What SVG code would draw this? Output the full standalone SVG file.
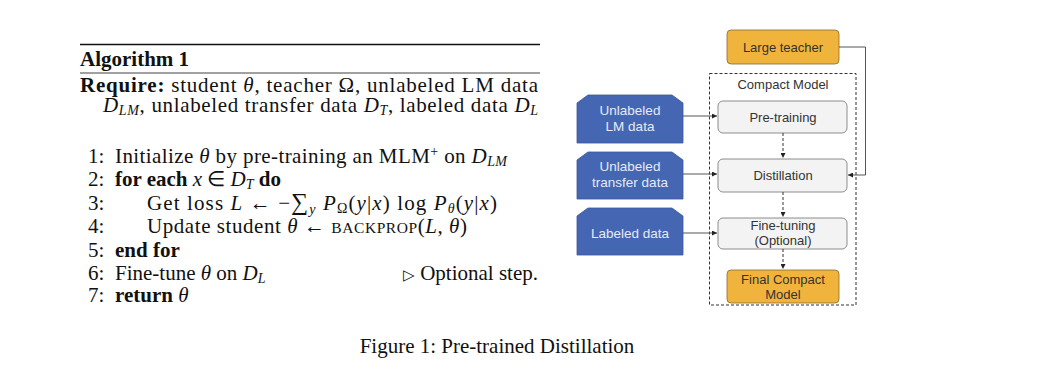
<svg xmlns="http://www.w3.org/2000/svg" width="1054" height="371" viewBox="0 0 1054 371">
<defs>
<style>
.t{font-family:"Liberation Serif","Times New Roman",serif;font-size:21px;fill:#111}
.b{font-weight:bold}
.i{font-style:italic}
.s{font-size:14px}
.n{font-family:"Liberation Sans",Arial,sans-serif;font-size:13px;fill:#333;text-anchor:middle}
.w{fill:#e6ebf7;font-size:13.5px}
.blue{fill:#4566b2;stroke:#3a5699;stroke-width:0.8}
.org{fill:#f0b43c;stroke:#8a6a2a;stroke-width:0.8}
.gry{fill:#f3f3f3;stroke:#8c8c8c;stroke-width:1}
.c{fill:none;stroke:#555;stroke-width:1}
.d{fill:none;stroke:#333;stroke-width:1;stroke-dasharray:3 2}
</style>
<marker id="ah" viewBox="0 0 6 6" refX="6" refY="3" markerWidth="5" markerHeight="5" orient="auto" markerUnits="userSpaceOnUse">
<path d="M0,0 L6,3 L0,6 z" fill="#222"/>
</marker>
</defs>
<rect width="1054" height="371" fill="#fff"/>

<g id="algorithm">
<line x1="80" y1="44.5" x2="540" y2="44.5" stroke="#111" stroke-width="1.6"/>
<text class="t b" x="80" y="65.5">Algorithm 1</text>
<line x1="80" y1="73" x2="540" y2="73" stroke="#111" stroke-width="0.8"/>
<text class="t" x="80" y="92" textLength="458" lengthAdjust="spacing"><tspan class="b">Require:</tspan> student <tspan class="i">θ</tspan>, teacher Ω, unlabeled LM data</text>
<text class="t" x="103" y="112" textLength="435" lengthAdjust="spacing"><tspan class="i">D</tspan><tspan class="i s" dy="3">LM</tspan><tspan dy="-3">, unlabeled transfer data </tspan><tspan class="i">D</tspan><tspan class="i s" dy="3">T</tspan><tspan dy="-3">, labeled data </tspan><tspan class="i">D</tspan><tspan class="i s" dy="3">L</tspan></text>

<text class="t" x="88" y="163">1:</text>
<text class="t" x="115" y="163" textLength="392" lengthAdjust="spacing">Initialize <tspan class="i">θ</tspan> by pre-training an MLM<tspan class="s" dy="-7">+</tspan><tspan dy="7"> on </tspan><tspan class="i">D</tspan><tspan class="i s" dy="3">LM</tspan></text>

<text class="t" x="88" y="186">2:</text>
<text class="t" x="115" y="186"><tspan class="b">for each</tspan> <tspan class="i">x</tspan> ∈ <tspan class="i">D</tspan><tspan class="i s" dy="3">T</tspan><tspan dy="-3"> </tspan><tspan class="b">do</tspan></text>

<text class="t" x="88" y="210">3:</text>
<text class="t" x="147" y="210" textLength="350" lengthAdjust="spacing">Get loss <tspan class="i">L</tspan> ← −<tspan font-size="24">∑</tspan><tspan class="i s" dy="4">y</tspan><tspan dy="-4"> </tspan><tspan class="i">P</tspan><tspan class="s" dy="3">Ω</tspan><tspan dy="-3">(</tspan><tspan class="i">y</tspan>|<tspan class="i">x</tspan>) log <tspan class="i">P</tspan><tspan class="i s" dy="3">θ</tspan><tspan dy="-3">(</tspan><tspan class="i">y</tspan>|<tspan class="i">x</tspan>)</text>

<text class="t" x="88" y="233">4:</text>
<text class="t" x="147" y="233" textLength="320" lengthAdjust="spacing">Update student <tspan class="i">θ</tspan> ← <tspan font-size="15.5">BACKPROP</tspan>(<tspan class="i">L</tspan>, <tspan class="i">θ</tspan>)</text>

<text class="t" x="88" y="257">5:</text>
<text class="t b" x="115" y="257">end for</text>

<text class="t" x="88" y="280">6:</text>
<text class="t" x="115" y="280">Fine-tune <tspan class="i">θ</tspan> on <tspan class="i">D</tspan><tspan class="i s" dy="3">L</tspan></text>
<text class="t" x="538" y="280" text-anchor="end"><tspan font-size="15">▷</tspan> Optional step.</text>

<text class="t" x="88" y="302">7:</text>
<text class="t" x="115" y="302"><tspan class="b">return</tspan> <tspan class="i">θ</tspan></text>
</g>

<g id="compact-model">
<rect x="709.5" y="73.5" width="146.5" height="231.5" class="d" stroke="#444"/>
<text class="n" x="783" y="89">Compact Model</text>
</g>

<g id="large-teacher">
<rect x="727" y="30" width="112" height="34" rx="4" class="org"/>
<text class="n" x="783" y="51.5">Large teacher</text>
</g>

<g id="unlabeled-lm">
<path d="M588,95 H672 L683,103 V143 H577 V103 Z" class="blue"/>
<text class="n w" x="630" y="115">Unlabeled</text>
<text class="n w" x="630" y="131">LM data</text>
</g>

<g id="unlabeled-transfer">
<path d="M588,152 H672 L683,160 V199 H577 V160 Z" class="blue"/>
<text class="n w" x="630" y="171">Unlabeled</text>
<text class="n w" x="630" y="187">transfer data</text>
</g>

<g id="labeled">
<path d="M588,208 H672 L683,216 V255 H577 V216 Z" class="blue"/>
<text class="n w" x="630" y="238">Labeled data</text>
</g>

<g id="pre-training">
<rect x="718" y="101" width="129" height="32" rx="5" class="gry"/>
<text class="n" x="783" y="121.5">Pre-training</text>
</g>

<g id="distillation">
<rect x="718" y="159" width="129" height="33" rx="5" class="gry"/>
<text class="n" x="783" y="180">Distillation</text>
</g>

<g id="fine-tuning">
<rect x="718" y="218" width="129" height="31" rx="5" class="gry"/>
<text class="n" x="783" y="230">Fine-tuning</text>
<text class="n" x="783" y="245">(Optional)</text>
</g>

<g id="final-compact">
<rect x="727" y="270" width="112" height="33" rx="4" class="org"/>
<text class="n" x="783" y="284">Final Compact</text>
<text class="n" x="783" y="299">Model</text>
</g>

<g id="connectors">
<line x1="683" y1="116" x2="717" y2="116" class="c" marker-end="url(#ah)"/>
<line x1="683" y1="174" x2="717" y2="174" class="c" marker-end="url(#ah)"/>
<line x1="683" y1="233" x2="717" y2="233" class="c" marker-end="url(#ah)"/>
<polyline points="839,47 865.5,47 865.5,175 848,175" class="c" marker-end="url(#ah)"/>
<line x1="783" y1="133" x2="783" y2="158" class="d" marker-end="url(#ah)"/>
<line x1="783" y1="192" x2="783" y2="217" class="d" marker-end="url(#ah)"/>
<line x1="783" y1="249" x2="783" y2="269" class="d" marker-end="url(#ah)"/>
</g>

<text class="t" x="497" y="353" text-anchor="middle" font-size="22.5">Figure 1: Pre-trained Distillation</text>
</svg>
